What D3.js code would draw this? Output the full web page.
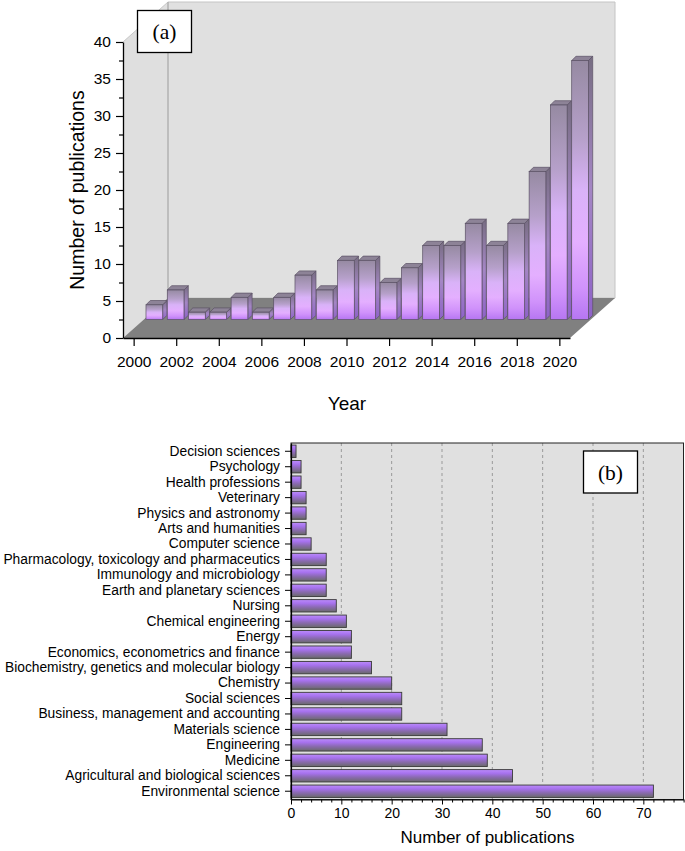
<!DOCTYPE html>
<html>
<head>
<meta charset="utf-8">
<script src="https://cdn.jsdelivr.net/npm/d3@7"></script>
<style>
  html, body { margin: 0; padding: 0; background: #fff; }
  svg { display: block; }
  text { font-family: "Liberation Sans", Arial, sans-serif; fill: #000; }
  .serif { font-family: "Liberation Serif", "Times New Roman", serif; }
</style>
</head>
<body>
<svg id="chart" width="685" height="851"></svg>
<script>
// ---------------- DATA ----------------
const years = [2000, 2001, 2002, 2003, 2004, 2005, 2006, 2007, 2008, 2009, 2010,
               2011, 2012, 2013, 2014, 2015, 2016, 2017, 2018, 2019, 2020];
const pubsPerYear = [2, 4, 1, 1, 3, 1, 3, 6, 4, 8, 8, 5, 7, 10, 10, 13, 10, 13, 20, 29, 35];
const yearTicks = [2000, 2002, 2004, 2006, 2008, 2010, 2012, 2014, 2016, 2018, 2020];
const countTicksA = [0, 5, 10, 15, 20, 25, 30, 35, 40];

const subjects = [
  "Decision sciences", "Psychology", "Health professions", "Veterinary",
  "Physics and astronomy", "Arts and humanities", "Computer science",
  "Pharmacology, toxicology and pharmaceutics", "Immunology and microbiology",
  "Earth and planetary sciences", "Nursing", "Chemical engineering", "Energy",
  "Economics, econometrics and finance", "Biochemistry, genetics and molecular biology",
  "Chemistry", "Social sciences", "Business, management and accounting",
  "Materials science", "Engineering", "Medicine",
  "Agricultural and biological sciences", "Environmental science"
];
const pubsPerSubject = [1, 2, 2, 3, 3, 3, 4, 7, 7, 7, 9, 11, 12, 12, 16, 20, 22, 22, 31, 38, 39, 44, 72];
const countTicksB = [0, 10, 20, 30, 40, 50, 60, 70];

// ---------------- SETUP ----------------
const svg = d3.select("#chart");
const defs = svg.append("defs");

function grad(id, stops) {
  const g = defs.append("linearGradient").attr("id", id)
    .attr("x1", 0).attr("y1", 0).attr("x2", 0).attr("y2", 1);
  stops.forEach(([o, c]) => g.append("stop").attr("offset", o).attr("stop-color", c));
}
grad("frontA", [[0, "#968aa2"], [0.3, "#b6a0ca"], [0.5, "#d9b2f8"], [0.7, "#e4afff"], [0.88, "#d092fb"], [1, "#b676f2"]]);
grad("sideA", [[0, "#776d82"], [0.5, "#a486c4"], [1, "#8e62c8"]]);
grad("barB", [[0, "#bb8cfb"], [0.3, "#a772ee"], [0.62, "#8a6ab0"], [1, "#6a6a6a"]]);

// ================= PANEL (a) =================
const axL = 123, axR = 570, axBottom = 338, axTop = 42;
const DX = 45, DY = 40;           // 3D depth offset of the walls
const barDepthF = 0.46;           // bar front plane as fraction of depth
const d = 4.3;                    // bar thickness offset

const xA = d3.scaleLinear().domain([1999.5, 2020.5]).range([axL, axR]);
const yA = d3.scaleLinear().domain([0, 40]).range([axBottom, axTop]);

const gA = svg.append("g");
const yb0 = yA(0), yTop = yA(40);

// left wall
gA.append("polygon")
  .attr("points", [[axL, yb0], [axL, yTop], [axL + DX, yTop - DY], [axL + DX, yb0 - DY]].join(" "))
  .attr("fill", "#dfdfdf");
// back wall
gA.append("polygon")
  .attr("points", [[axL + DX, yTop - DY], [axR + DX, yTop - DY], [axR + DX, yb0 - DY], [axL + DX, yb0 - DY]].join(" "))
  .attr("fill", "#e0e0e0").attr("stroke", "#c4c4c4").attr("stroke-width", 1);
// wall edges
gA.append("line").attr("x1", axL).attr("y1", yTop).attr("x2", axL + DX).attr("y2", yTop - DY)
  .attr("stroke", "#c8c8c8").attr("stroke-width", 1);
gA.append("line").attr("x1", axL + DX).attr("y1", yTop - DY).attr("x2", axL + DX).attr("y2", yb0 - DY)
  .attr("stroke", "#a8a8a8").attr("stroke-width", 1);
// floor
gA.append("polygon")
  .attr("points", [[axL, yb0], [axR, yb0], [axR + DX, yb0 - DY], [axL + DX, yb0 - DY]].join(" "))
  .attr("fill", "#808080");

// bars
const bw = (xA(1) - xA(0)) * 0.785;
const fdx = DX * barDepthF, fdy = DY * barDepthF;
const barsA = gA.append("g").selectAll("g").data(years.map((y, i) => ({ year: y, v: pubsPerYear[i] })))
  .join("g");
barsA.each(function (p) {
  const g = d3.select(this);
  const x0 = xA(p.year) + fdx - bw / 2, x1 = x0 + bw;
  const base = yA(0) - fdy, top = yA(p.v) - fdy;
  const stroke = "#5a5064";
  g.append("polygon")
    .attr("points", [[x1, top], [x1 + d, top - d], [x1 + d, base - d], [x1, base]].join(" "))
    .attr("fill", "url(#sideA)").attr("stroke", stroke).attr("stroke-width", 0.7).attr("stroke-linejoin", "round");
  g.append("polygon")
    .attr("points", [[x0, top], [x0 + d, top - d], [x1 + d, top - d], [x1, top]].join(" "))
    .attr("fill", "#8d8397").attr("stroke", stroke).attr("stroke-width", 0.7).attr("stroke-linejoin", "round");
  g.append("rect")
    .attr("x", x0).attr("y", top).attr("width", bw).attr("height", base - top)
    .attr("fill", "url(#frontA)").attr("stroke", stroke).attr("stroke-width", 0.7);
});

// y axis (a)
const yAxisA = gA.append("g").attr("transform", `translate(${axL},0)`)
  .call(d3.axisLeft(yA).tickValues(countTicksA).tickSize(7).tickSizeOuter(0).tickPadding(5));
yAxisA.selectAll("text").style("font-size", "15.5px").style("font-family", "Liberation Sans, Arial, sans-serif");
yAxisA.select(".domain").attr("stroke-width", 1.3);
yAxisA.selectAll(".tick line").attr("stroke-width", 1.2);
gA.append("g").attr("transform", `translate(${axL},0)`)
  .call(d3.axisLeft(yA).tickValues(d3.range(2.5, 40, 5)).tickSize(4).tickFormat(""))
  .call(g => g.select(".domain").remove())
  .selectAll(".tick line").attr("stroke-width", 1.2);

// x axis (a)
const xAxisA = gA.append("g").attr("transform", `translate(0,${axBottom})`)
  .call(d3.axisBottom(xA).tickValues(yearTicks).tickFormat(d3.format("d")).tickSize(8).tickSizeOuter(0).tickPadding(9.5));
xAxisA.selectAll("text").style("font-size", "15.5px").style("font-family", "Liberation Sans, Arial, sans-serif");
xAxisA.select(".domain").attr("stroke-width", 1.3);
xAxisA.selectAll(".tick line").attr("stroke-width", 1.2);

// axis titles (a)
gA.append("text").attr("x", 347).attr("y", 410).attr("text-anchor", "middle")
  .style("font-size", "19px").text("Year");
gA.append("text").attr("transform", "translate(84,190) rotate(-90)").attr("text-anchor", "middle")
  .style("font-size", "19.5px").text("Number of publications");

// (a) label box
gA.append("rect").attr("x", 137.5).attr("y", 10.5).attr("width", 54).attr("height", 42)
  .attr("fill", "#fff").attr("stroke", "#000").attr("stroke-width", 1.3);
gA.append("text").attr("class", "serif").attr("x", 164.5).attr("y", 39).attr("text-anchor", "middle")
  .style("font-size", "21.5px").text("(a)");

// ================= PANEL (b) =================
const bL = 291, bR = 683.6, bT = 443, bB = 799.5;
const xB = d3.scaleLinear().domain([0, 78]).range([bL, bR]);
const yB = d3.scaleBand().domain(subjects).range([bT, bB]).paddingInner(0.2).paddingOuter(0.135);

const gB = svg.append("g");
gB.append("rect").attr("x", bL).attr("y", bT).attr("width", 684 - bL).attr("height", bB - bT)
  .attr("fill", "#e0e0e0");

// grid
gB.append("g").selectAll("line").data(countTicksB.slice(1)).join("line")
  .attr("x1", v => xB(v)).attr("x2", v => xB(v)).attr("y1", bT).attr("y2", bB)
  .attr("stroke", "#9a9a9a").attr("stroke-width", 1).attr("stroke-dasharray", "3,3");

// bars
gB.append("g").selectAll("rect").data(subjects.map((s, i) => ({ s, v: pubsPerSubject[i] })))
  .join("rect")
  .attr("x", xB(0)).attr("y", p => yB(p.s))
  .attr("width", p => xB(p.v) - xB(0)).attr("height", yB.bandwidth())
  .attr("fill", "url(#barB)").attr("stroke", "#3a3a3a").attr("stroke-width", 0.9);

// frame
gB.append("rect").attr("x", bL).attr("y", bT).attr("width", 684 - bL - 0.5).attr("height", bB - bT)
  .attr("fill", "none").attr("stroke", "#222").attr("stroke-width", 1);

// y axis (b)
const yAxisB = gB.append("g").attr("transform", `translate(${bL},0)`)
  .call(d3.axisLeft(yB).tickSize(6).tickSizeOuter(0).tickPadding(5));
yAxisB.selectAll("text").style("font-size", "13.8px").style("font-family", "Liberation Sans, Arial, sans-serif");
yAxisB.select(".domain").attr("stroke-width", 1.2);

// x axis (b)
const xAxisB = gB.append("g").attr("transform", `translate(0,${bB})`)
  .call(d3.axisBottom(xB).tickValues(countTicksB).tickSize(5).tickSizeOuter(0).tickPadding(4));
xAxisB.selectAll("text").style("font-size", "14px").style("font-family", "Liberation Sans, Arial, sans-serif");
xAxisB.select(".domain").attr("stroke-width", 1.2);
gB.append("g").attr("transform", `translate(0,${bB})`)
  .call(d3.axisBottom(xB).tickValues(d3.range(2, 79, 2).filter(v => v % 10 !== 0)).tickSize(3).tickFormat(""))
  .call(g => g.select(".domain").remove());

gB.append("text").attr("x", 487.5).attr("y", 843).attr("text-anchor", "middle")
  .style("font-size", "17px").text("Number of publications");

// (b) label box
gB.append("rect").attr("x", 583.5).attr("y", 451).attr("width", 54).attr("height", 42)
  .attr("fill", "#fff").attr("stroke", "#000").attr("stroke-width", 1.3);
gB.append("text").attr("class", "serif").attr("x", 610.5).attr("y", 479.5).attr("text-anchor", "middle")
  .style("font-size", "21.5px").text("(b)");
</script>
</body>
</html>
